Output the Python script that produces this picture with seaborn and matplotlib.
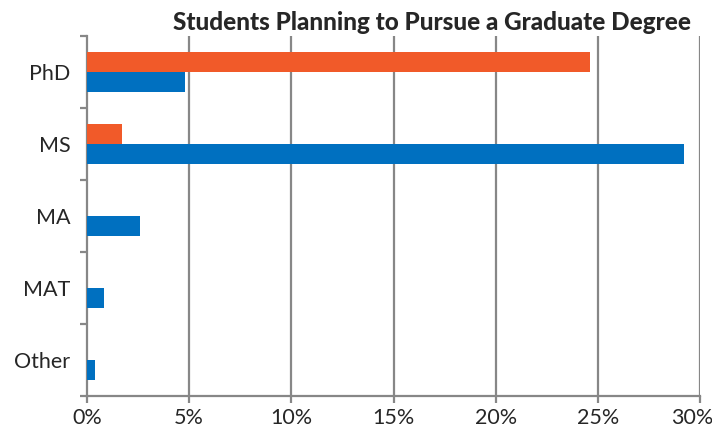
import matplotlib
matplotlib.use("Agg")
import matplotlib.pyplot as plt
import matplotlib.transforms as mtransforms
import seaborn as sns
import pandas as pd
import numpy as np
from matplotlib.ticker import FixedLocator, PercentFormatter

categories = ["PhD", "MS", "MA", "MAT", "Other"]
series_names = ["Series 1", "Series 2"]
series1_values = [24.6, 1.7, 0.0, 0.0, 0.0]   # orange
series2_values = [4.8, 29.2, 2.6, 0.85, 0.4]  # blue
x_ticks = [0, 5, 10, 15, 20, 25, 30]
title = "Students Planning to Pursue a Graduate Degree"

df = pd.DataFrame({
    "Degree": categories * 2,
    "Series": [series_names[0]] * len(categories) + [series_names[1]] * len(categories),
    "Percent": series1_values + series2_values,
})

sns.set_style("white")
plt.rcParams["font.family"] = ["Lato", "DejaVu Sans"]

fig = plt.figure(figsize=(7.12, 4.32), dpi=100)
ax = fig.add_axes([87/712, 1-396/432, 613/712, 360/432])

sns.barplot(data=df, x="Percent", y="Degree", hue="Series", order=categories,
            hue_order=series_names, palette=["#F15A29", "#0070C0"],
            width=0.56, orient="h", ax=ax, legend=False, zorder=3, saturation=1,
            linewidth=0)

grid_c = "#878787"
ax.set_xlim(0, 30)
ax.set_ylim(len(categories) - 0.5, -0.5)
ax.set_xticks(x_ticks)
ax.xaxis.set_major_formatter(PercentFormatter(decimals=0))
for x in x_ticks[1:]:
    ax.axvline(x, color=grid_c, lw=1.6, zorder=1)

ax.set_yticks(range(len(categories)))
ax.set_yticklabels(categories)
ax.yaxis.set_minor_locator(FixedLocator(np.arange(-0.5, len(categories), 1)))
ax.tick_params(axis="y", which="major", length=0, pad=12, labelsize=15.5)
ax.tick_params(axis="y", which="minor", length=5, width=1.6, color=grid_c, left=True)
ax.tick_params(axis="x", which="major", length=5, width=1.6, color=grid_c, bottom=True,
               labelsize=15.5, pad=4)
ax.set_xlabel("")
ax.set_ylabel("")
for s in ["top", "right"]:
    ax.spines[s].set_visible(False)
for s in ["left", "bottom"]:
    ax.spines[s].set_color(grid_c)
    ax.spines[s].set_linewidth(1.6)

fig.canvas.draw()
last = ax.get_xticklabels()[-1]
last.set_transform(last.get_transform() + mtransforms.ScaledTranslation(-8/100, 0, fig.dpi_scale_trans))

fig.text(432/712, 1-22/432, title, ha="center", va="center", fontsize=17.5, fontweight="black")

fig.savefig("out.png", dpi=100)
